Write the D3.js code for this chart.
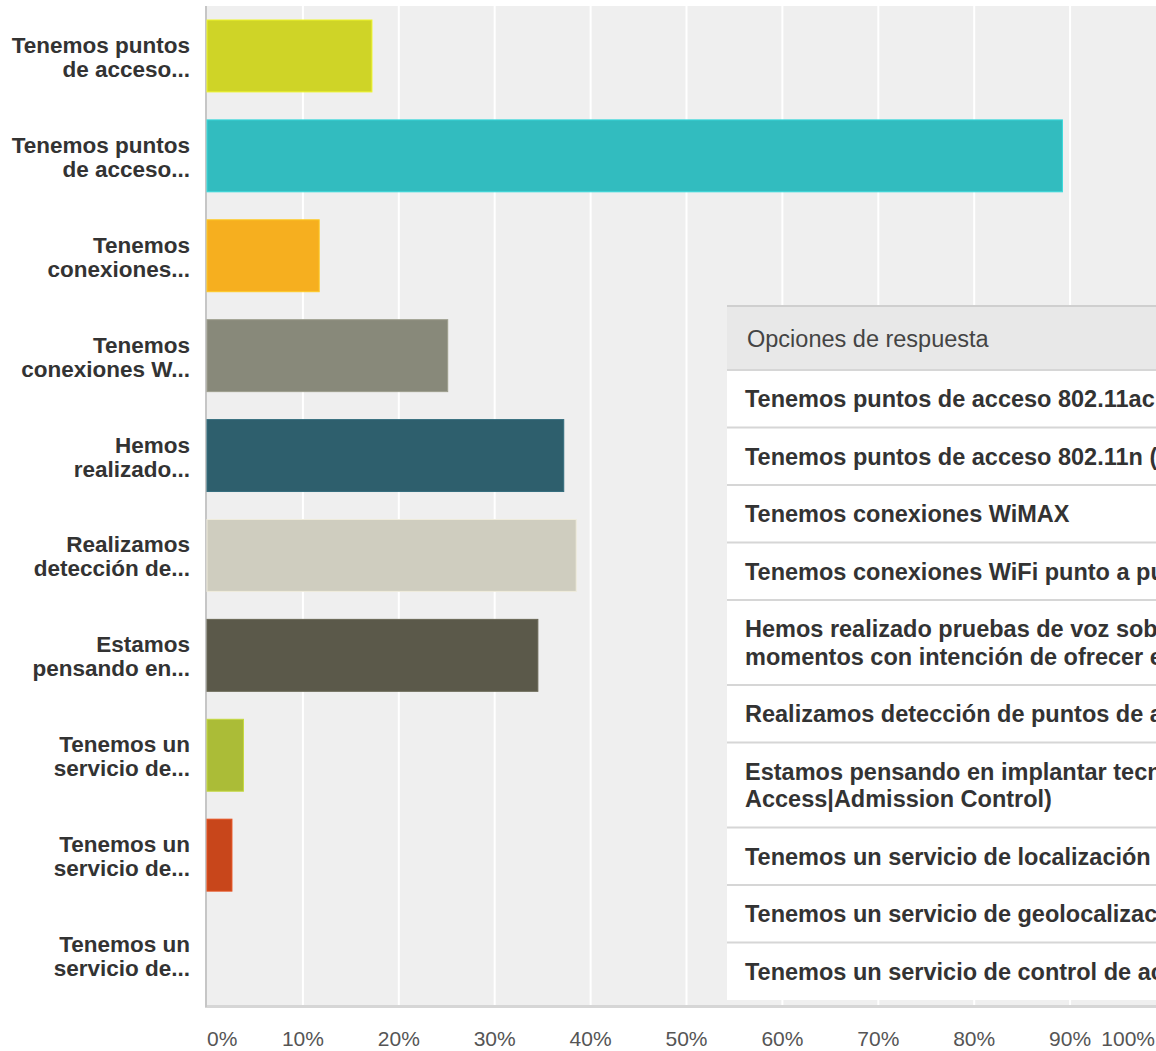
<!DOCTYPE html>
<html>
<head>
<meta charset="utf-8">
<script src="https://cdn.jsdelivr.net/npm/d3@7"></script>
<style>
    html, body { margin: 0; padding: 0; background: #fff; overflow: hidden; }
    svg { display: block; font-family: "Liberation Sans", Arial, sans-serif; }
</style>
</head>
<body>
<div id="chart"></div>
<script>
/*global d3*/

// Short labels shown beside the bars (two lines each)
var barLabels = [
    ["Tenemos puntos", "de acceso..."],
    ["Tenemos puntos", "de acceso..."],
    ["Tenemos", "conexiones..."],
    ["Tenemos", "conexiones W..."],
    ["Hemos", "realizado..."],
    ["Realizamos", "detección de..."],
    ["Estamos", "pensando en..."],
    ["Tenemos un", "servicio de..."],
    ["Tenemos un", "servicio de..."],
    ["Tenemos un", "servicio de..."]
];

// Percent of responses per option
var barValues = [17.2, 89.2, 11.7, 25.1, 37.2, 38.5, 34.5, 3.8, 2.6, 0];

var barColors = ["#cfd427", "#32bcbf", "#f6af1f", "#88897a", "#2e5f6d",
    "#cfcdbf", "#5b594a", "#abbc37", "#c8461b", "#7f7f7f"];

var xTicks = [0, 10, 20, 30, 40, 50, 60, 70, 80, 90, 100];

// Full answer texts in the overlaid table (run off the right edge, as in the original)
var tableHeader = "Opciones de respuesta";
var tableRows = [
    ["Tenemos puntos de acceso 802.11ac desplegados"],
    ["Tenemos puntos de acceso 802.11n (o anteriores)"],
    ["Tenemos conexiones WiMAX"],
    ["Tenemos conexiones WiFi punto a punto"],
    ["Hemos realizado pruebas de voz sobre WiFi o estamos en estos",
        "momentos con intención de ofrecer el servicio"],
    ["Realizamos detección de puntos de acceso no autorizados"],
    ["Estamos pensando en implantar tecnologías NAC (Network",
        "Access|Admission Control)"],
    ["Tenemos un servicio de localización de dispositivos"],
    ["Tenemos un servicio de geolocalización"],
    ["Tenemos un servicio de control de acceso"]
];

(function () {
    "use strict";

    var width = 1156,
        height = 1051,
        plot = {left: 207, top: 6, right: 1166, bottom: 1005},
        svg,
        x,
        y,
        labels,
        tableX = 727,
        tableTop = 307,
        headerH = 63,
        rowY;

    svg = d3.select("#chart").append("svg")
        .attr("width", width)
        .attr("height", height);

    x = d3.scaleLinear()
        .domain([0, 100])
        .range([plot.left, plot.right]);

    y = d3.scaleBand()
        .domain(d3.range(barValues.length))
        .range([plot.top, plot.bottom])
        .paddingInner(0.28)
        .paddingOuter(0.14);

    // plot background
    svg.append("rect")
        .attr("x", plot.left)
        .attr("y", plot.top)
        .attr("width", plot.right - plot.left)
        .attr("height", plot.bottom - plot.top)
        .attr("fill", "#efefef");

    // vertical grid
    svg.append("g").selectAll("line")
        .data(xTicks.slice(1))
        .join("line")
        .attr("x1", function (d) { return x(d); })
        .attr("x2", function (d) { return x(d); })
        .attr("y1", plot.top)
        .attr("y2", plot.bottom)
        .attr("stroke", "#fff")
        .attr("stroke-width", 2);

    // bottom and left borders
    svg.append("rect")
        .attr("x", plot.left - 2)
        .attr("y", plot.bottom)
        .attr("width", plot.right - plot.left + 2)
        .attr("height", 3)
        .attr("fill", "#d6d6d6");
    svg.append("line")
        .attr("x1", plot.left - 1)
        .attr("x2", plot.left - 1)
        .attr("y1", plot.top)
        .attr("y2", plot.bottom + 2)
        .attr("stroke", "#c6c6c6")
        .attr("stroke-width", 2);

    // bars
    svg.append("g").selectAll("rect")
        .data(barValues)
        .join("rect")
        .attr("x", x(0))
        .attr("y", function (d, i) { return y(i); })
        .attr("width", function (d) { return x(d) - x(0); })
        .attr("height", y.bandwidth())
        .attr("fill", function (d, i) { return barColors[i]; })
        .attr("stroke", function (d, i) { return d3.color(barColors[i]).brighter(0.4); })
        .attr("stroke-width", function (d) { return d > 0 ? 1 : 0; });

    // category labels
    labels = svg.append("g").selectAll("text")
        .data(barLabels)
        .join("text")
        .attr("x", 190)
        .attr("y", function (d, i) { return y(i) + y.bandwidth() / 2 - 3; })
        .attr("text-anchor", "end")
        .attr("font-size", 22.5)
        .attr("font-weight", "bold")
        .attr("fill", "#333");
    labels.selectAll("tspan")
        .data(function (d) { return d; })
        .join("tspan")
        .attr("x", 190)
        .attr("dy", function (d, i) { return i === 0 ? 0 : 24; })
        .text(function (d) { return d; });

    // x tick labels (kept just inside the bottom and right edges)
    svg.append("g").selectAll("text")
        .data(xTicks)
        .join("text")
        .attr("x", function (d) { return d === 100 ? width - 1 : x(d); })
        .attr("y", 1046)
        .attr("text-anchor", function (d) {
            if (d === 0) {
                return "start";
            }
            return d === 100 ? "end" : "middle";
        })
        .attr("font-size", 21)
        .attr("fill", "#555")
        .text(function (d) { return d + "%"; });

    // overlaid answer table
    svg.append("rect")
        .attr("x", tableX)
        .attr("y", tableTop - 1)
        .attr("width", width - tableX)
        .attr("height", headerH + 1)
        .attr("fill", "#e8e8e8");
    svg.append("line")
        .attr("x1", tableX)
        .attr("x2", width)
        .attr("y1", tableTop - 1)
        .attr("y2", tableTop - 1)
        .attr("stroke", "#cfcfcf")
        .attr("stroke-width", 2);
    svg.append("text")
        .attr("x", 747)
        .attr("y", tableTop + 40)
        .attr("font-size", 23.5)
        .attr("fill", "#444")
        .text(tableHeader);

    rowY = [tableTop + headerH];
    tableRows.forEach(function (r, i) {
        rowY.push(rowY[i] + 30 + 27.5 * r.length);
    });

    svg.append("g").selectAll("rect")
        .data(tableRows)
        .join("rect")
        .attr("x", tableX)
        .attr("y", function (d, i) { return rowY[i]; })
        .attr("width", width - tableX)
        .attr("height", function (d, i) { return rowY[i + 1] - rowY[i]; })
        .attr("fill", "#fff");

    svg.append("g").selectAll("line")
        .data(rowY.slice(0, -1))
        .join("line")
        .attr("x1", tableX)
        .attr("x2", width)
        .attr("y1", function (d) { return d; })
        .attr("y2", function (d) { return d; })
        .attr("stroke", "#d6d6d6")
        .attr("stroke-width", 2);

    svg.append("g").selectAll("text")
        .data(tableRows)
        .join("text")
        .attr("x", 745)
        .attr("y", function (d, i) { return rowY[i] + 37; })
        .attr("font-size", 23.5)
        .attr("font-weight", "bold")
        .attr("fill", "#333")
        .selectAll("tspan")
        .data(function (d) { return d; })
        .join("tspan")
        .attr("x", 745)
        .attr("dy", function (d, i) { return i === 0 ? 0 : 27.5; })
        .text(function (d) { return d; });
}());
</script>
</body>
</html>
